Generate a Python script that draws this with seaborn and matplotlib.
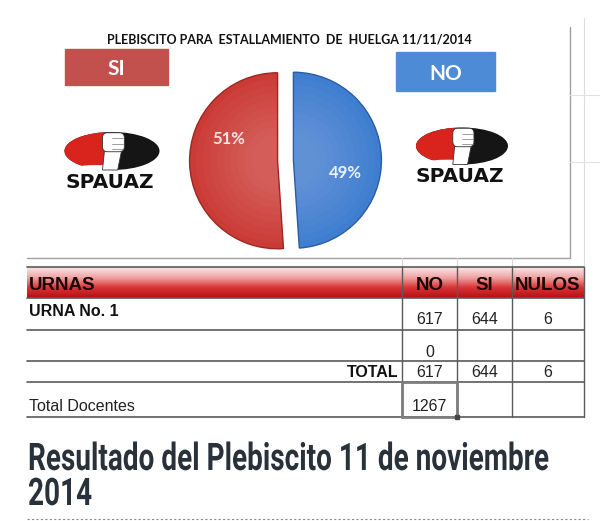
import numpy as np
import matplotlib
matplotlib.use("Agg")
import matplotlib.pyplot as plt
from matplotlib import font_manager as fm
from matplotlib.patches import Ellipse, Rectangle, FancyBboxPatch, Polygon
from matplotlib.patheffects import AbstractPathEffect
from matplotlib.transforms import Affine2D
from matplotlib.colors import LinearSegmentedColormap
import seaborn as sns

# data
vote_labels = ["SI", "NO"]
vote_counts = [644, 617]
chart_title = "PLEBISCITO PARA  ESTALLAMIENTO  DE  HUELGA 11/11/2014"
table_header = ["URNAS", "NO", "SI", "NULOS"]
row_urna = ["URNA No. 1", "617", "644", "6"]
row_extra = ["", "0", "", ""]
row_total = ["TOTAL", "617", "644", "6"]
row_docentes = ["Total Docentes", "1267", "", ""]
page_title = ["Resultado del Plebiscito 11 de noviembre", "2014"]

sns.set_theme(style="white")
plt.rcParams['font.family'] = ['Liberation Sans', 'DejaVu Sans']
pie_colors = sns.color_palette(['#CB3B36', '#3F7ECF'])


class TallGlyphs(AbstractPathEffect):
    # stretch glyphs upward from the baseline (the headline font is a tall condensed one)
    def __init__(self, sy):
        super().__init__()
        self.sy = sy

    def draw_path(self, renderer, gc, tpath, affine, rgbFace=None):
        renderer.draw_path(gc, tpath, Affine2D().scale(1, self.sy) + affine, rgbFace)


fig = plt.figure(figsize=(6, 5.21), dpi=100)
bg = fig.add_axes([0, 0, 1, 1])
bg.axis('off')
bg.set_xlim(0, 600)
bg.set_ylim(521, 0)

# chart frame + faint spreadsheet grid
bg.plot([27, 570], [258, 258], color='#a0a0a0', lw=1)
bg.plot([570, 570], [27, 258], color='#a0a0a0', lw=1)
bg.plot([584, 584], [18, 267], color='#dddddd', lw=0.8)
bg.plot([570, 600], [95, 95], color='#e2e2e2', lw=0.8)
bg.plot([570, 600], [162, 162], color='#e2e2e2', lw=0.8)

bg.text(289.5, 39, chart_title, ha='center', va='center_baseline', fontsize=9,
        fontweight='bold', family=['Lato', 'DejaVu Sans'], color='#111111')

# SI / NO legend boxes
bg.add_patch(Rectangle((65, 49), 103, 36, color='#C2514E', zorder=2))
bg.text(116.5, 67, vote_labels[0], ha='center', va='center_baseline', fontsize=15,
        fontweight='bold', family=['Lato', 'DejaVu Sans'], color='white', zorder=3)
bg.add_patch(Rectangle((396, 52), 99, 39, color='#4E8BD6', zorder=2))
bg.text(445.5, 71.5, vote_labels[1], ha='center', va='center_baseline', fontsize=15,
        fontweight='bold', family=['Lato', 'DejaVu Sans'], color='white', zorder=3)


def draw_logo(cx, cy, w, h, text_y):
    bg.add_patch(Ellipse((cx, cy), w, h, facecolor='#151515', edgecolor='none', zorder=3))
    red = Ellipse((cx, cy), w, h, facecolor='#D9231D', edgecolor='none', zorder=4)
    bg.add_patch(red)
    red.set_clip_path(Rectangle((cx - w / 2 - 2, cy - h / 2 - 2), 0.42 * w + 2, h + 4,
                                transform=bg.transData))
    cut = Ellipse((cx - 0.15 * w, cy + 0.62 * h), 0.9 * w, 0.5 * h,
                  facecolor='white', edgecolor='none', zorder=5)
    bg.add_patch(cut)
    cut.set_clip_path(Rectangle((cx - w, cy - h), w + 0.02 * w, 2 * h, transform=bg.transData))
    arm = Polygon([[cx - 0.08 * w, cy], [cx + 0.1 * w, cy], [cx + 0.06 * w, cy + 0.5 * h],
                   [cx - 0.1 * w, cy + 0.5 * h]], closed=True,
                  facecolor='white', edgecolor='#333333', lw=0.6, zorder=6)
    bg.add_patch(arm)
    bg.add_patch(FancyBboxPatch((cx - 0.1 * w, cy - 0.48 * h), 0.23 * w, 0.5 * h,
                                boxstyle='round,pad=0,rounding_size=5',
                                facecolor='white', edgecolor='#333333', lw=0.6, zorder=7))
    for k in range(3):
        yy = cy - 0.33 * h + k * 0.14 * h
        bg.plot([cx, cx + 0.12 * w], [yy, yy], color='#777777', lw=0.5, zorder=8)
    bg.text(cx - 2, text_y, 'SPAUAZ', ha='center', va='center_baseline', fontsize=14.5,
            fontweight='bold', family=['DejaVu Sans'], color='#111111', zorder=8)


draw_logo(112, 151, 95, 38, 181)
draw_logo(462, 146, 92, 37, 174)

# pie
pie_cx, pie_cy, r_px = 285.5, 160.5, 88
half = 1.2 * r_px
ax = fig.add_axes([(pie_cx - half) / 600, (521 - pie_cy - half) / 521,
                   2 * half / 600, 2 * half / 521])
explode = [0.09, 0.09]
wedges, texts, autotexts = ax.pie(vote_counts, colors=pie_colors, startangle=90,
                                  explode=explode, autopct='%1.0f%%',
                                  wedgeprops=dict(linewidth=0))
# soft shading: lighter towards the middle, darker at the rim
for rr in np.linspace(0.93, 0.3, 9):
    ax.pie(vote_counts, startangle=90, explode=explode, radius=rr,
           colors=[(1, 1, 1, 0.025)] * 2, wedgeprops=dict(linewidth=0))
rims = ax.pie(vote_counts, startangle=90, explode=explode,
              colors=['none', 'none'], wedgeprops=dict(linewidth=1.0))[0]
rims[0].set_edgecolor('#9E2622')
rims[1].set_edgecolor('#2B5CA2')
ax.set_xlim(-1.2, 1.2)
ax.set_ylim(-1.2, 1.2)
label_pos = [(-0.65, 0.26), (0.68, -0.13)]
label_col = ['#F7E4E2', '#E9F1FB']
for t, p, c in zip(autotexts, label_pos, label_col):
    t.set_position(p)
    t.set(color=c, fontsize=12, fontweight='bold', family=['Lato', 'DejaVu Sans'],
          ha='center', va='center_baseline', zorder=10)

# table
hdr_cmap = LinearSegmentedColormap.from_list('hdr', ['#fbe6e6', '#f0a4a4', '#d83434', '#b70f14'])
bg.imshow(np.linspace(0, 1, 64).reshape(-1, 1), extent=[27, 584, 298, 267],
          cmap=hdr_cmap, aspect='auto', zorder=1)

for x in [402, 457, 512]:
    bg.plot([x, x], [258, 267], color='#d5d5d5', lw=0.8)
for y in [267, 298, 330, 361, 382, 417]:
    bg.plot([27, 584], [y, y], color='#5a5a5a', lw=1.2, zorder=2)
for x in [402, 457, 512, 584]:
    bg.plot([x, x], [267, 417], color='#5a5a5a', lw=1.0, zorder=2)
bg.add_patch(Rectangle((402, 382), 55, 35, fill=False, edgecolor='#7d7d7d', lw=2, zorder=3))
bg.add_patch(Rectangle((455, 415), 4, 4, color='#444444', zorder=4))

col_x = [429.5, 484.5, 548]
bg.text(29, 283, table_header[0], ha='left', va='center_baseline', fontsize=13.5,
        fontweight='bold', color='#1a0505', zorder=3)
for x, s in zip(col_x, table_header[1:]):
    bg.text(x, 283, s, ha='center', va='center_baseline', fontsize=13.5,
            fontweight='bold', color='#1a0505', zorder=3)

bg.text(29, 310, row_urna[0], ha='left', va='center_baseline', fontsize=11.5,
        fontweight='bold', color='#111111')
for x, s in zip(col_x, row_urna[1:]):
    bg.text(x, 318, s, ha='center', va='center_baseline', fontsize=11.5, color='#222222')
for x, s in zip(col_x, row_extra[1:]):
    bg.text(x, 351, s, ha='center', va='center_baseline', fontsize=11.5, color='#222222')
bg.text(398, 371, row_total[0], ha='right', va='center_baseline', fontsize=11.5,
        fontweight='bold', color='#111111')
for x, s in zip(col_x, row_total[1:]):
    bg.text(x, 371, s, ha='center', va='center_baseline', fontsize=11.5, color='#222222')
bg.text(29, 405, row_docentes[0], ha='left', va='center_baseline', fontsize=11.5,
        color='#222222')
for x, s in zip(col_x, row_docentes[1:]):
    bg.text(x, 405, s, ha='center', va='center_baseline', fontsize=11.5, color='#222222')

# page headline: first line spans the same width as in the picture
head_fp = fm.FontProperties(family=['Roboto', 'Liberation Sans'], weight='bold')
heads = []
for line, base in zip(page_title, [470, 505]):
    heads.append(bg.text(28, base, line, ha='left', va='baseline', fontproperties=head_fp,
                         fontsize=20, color='#29313b'))
renderer = fig.canvas.get_renderer()
wpx = heads[0].get_window_extent(renderer).width
fs = min(20 * 520 / wpx, 30)
cap_px = 0.71 * fs * 100 / 72
for t in heads:
    t.set_fontsize(fs)
    t.set_path_effects([TallGlyphs(27 / cap_px)])
bg.plot([27, 588], [519, 519], color='#8a8a8a', lw=0.8, ls=(0, (2, 2)))

bg.set_xlim(0, 600)
bg.set_ylim(521, 0)
fig.savefig('out.png', dpi=100)
